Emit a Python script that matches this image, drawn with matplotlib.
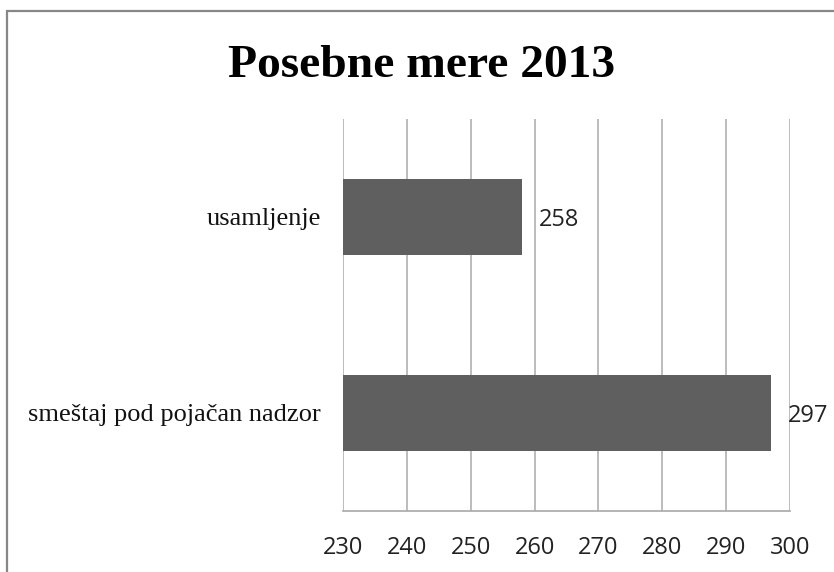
"""Horizontal bar chart: Posebne mere 2013."""

import matplotlib

matplotlib.use("Agg")
import matplotlib.pyplot as plt
from matplotlib.patches import Rectangle

# data, bottom to top
categories = ["smeštaj pod pojačan nadzor", "usamljenje"]
values = [297, 258]
x_ticks = [230, 240, 250, 260, 270, 280, 290, 300]

W, H = 834, 572
fig = plt.figure(figsize=(W / 100, H / 100), dpi=100)

# outer chart frame (runs off the right and bottom edge)
fig.patches.append(
    Rectangle((7 / W, -0.1), 1.2, (H - 11) / H + 0.1,
              transform=fig.transFigure, fill=False,
              edgecolor="#878787", linewidth=1.6, zorder=0)
)

ax = fig.add_axes([343 / W, (H - 511) / H, 447 / W, 392 / H])

pos = list(range(len(categories)))
ax.barh(pos, values, height=0.39, left=0, color="#5f5f5f", zorder=3)
ax.set_xlim(x_ticks[0], x_ticks[-1])
ax.set_ylim(-0.5, len(categories) - 0.5)

ax.set_xticks(x_ticks)
ax.set_xticklabels([str(t) for t in x_ticks], family="Open Sans", fontsize=17)
ax.set_yticks(pos)
ax.set_yticklabels(categories, family="Liberation Serif", fontsize=19)
ax.tick_params(axis="x", length=0, pad=18, colors="#222222")
ax.tick_params(axis="y", length=0, pad=16, colors="#111111")

ax.grid(axis="x", color="#b0b0b0", linewidth=1.2, zorder=0)
for side in ("top", "right", "left"):
    ax.spines[side].set_visible(False)
ax.spines["bottom"].set_color("#a8a8a8")
ax.spines["bottom"].set_linewidth(1.2)

for p, v in zip(pos, values):
    ax.annotate(str(v), (v, p), xytext=(12, 0), textcoords="offset points",
                va="center_baseline", ha="left", family="Open Sans", fontsize=17,
                color="#222222", zorder=4)

fig.text(421.5 / W, 1 - 77 / H, "Posebne mere 2013", ha="center", va="baseline",
         family="Liberation Serif", fontweight="bold", fontsize=34.2)

fig.savefig("out.png", dpi=100)
